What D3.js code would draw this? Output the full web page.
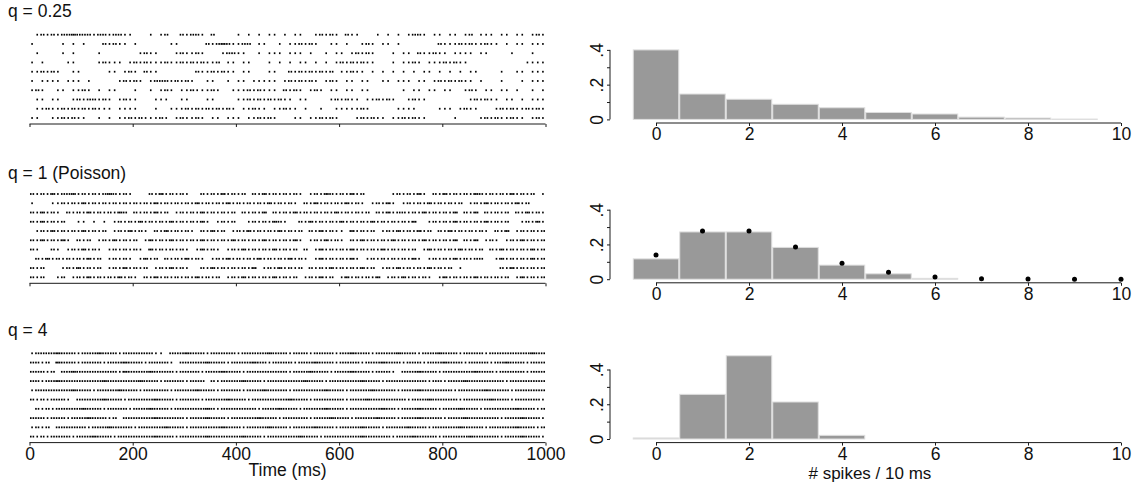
<!DOCTYPE html>
<html>
  <head>
    <meta charset="utf-8" />
    <title>Spike trains and count histograms</title>
    <script src="https://d3js.org/d3.v7.min.js"></script>
    <style>
      body {
        margin: 0;
        background: #fff;
      }
      svg text {
        font-family: "Liberation Sans", Arial, sans-serif;
        fill: #111;
      }
    </style>
  </head>
  <body>

    <svg id="chart"></svg>

    <script>

      var panelLabels = ["q = 0.25", "q = 1 (Poisson)", "q = 4"];

      // spike counts per 10 ms bin, one string per trial (100 bins = 1000 ms)
      var trainsQ025 = [
        "0121212232221221221100010120021221020000101010110101100121210211000101010122101101101201110110110121",
        "1000001010100021211010000001100000212321122011001011212100110100121011010000000211121211211010110111",
        "0100001010000100000001211000121121000122110010111011101001011012121000101102112110111101100001000100",
        "1010000110000121110121211121121212112011011000101010110101012121211000101121011121211000000000001111",
        "1121210011000001101210211000000021121211011000110021212121201121101010101010110101010110000100110111",
        "1011110111010000012121012221212100110010110111110121212101210110110011011101101212121101000100010111",
        "1210011011210101100010010121011211121001112121110212101210110110110000001011011011001210110110100101",
        "0110110012122121012110001110011000110000112121212110110000121211011212100121100000000121211011010111",
        "0112112121212111011110001001112121212121011211011211010010011111210000011110000111012110001212112121",
        "1100112121100101011212111210121121011011101121210001101121210001212110112121100000100001212112110121"
      ];
      var trainsQ1 = [
        "2121312231212123212100021312121002121312120213121212101213212131200000121213102131212132121213121201",
        "1000112121312121212121213121212131212131212121312121021312121312101213101212131212120121312121312",
        "2131210212131212132021213120121213121212021213021213121212131212120213122121312121302130212120213121212",
        "2131212001101010121213121213121213101212001212132100213121213121213121212130012121312121312120012131",
        "0121312121312120121312102131212102131201213121213121202131211031212012131213120213121212102130121212",
        "2131213102120121312120131213121213121213121213121213101213121021312121312121312121302130121012131212131",
        "2100210121312101212121031212121013121012131212131212020131212131212131212120131212131212021312121312",
        "0213121212131201212101312021213121012131212131212131210131212131012121212131012121312122001312121312",
        "2120001213121201213121201213121002131212121301213121202121312121312012131212131212010000000213121212",
        "2120012012131212131210213121212131212012131212131212012131201312121301213121210131212131212120131212"
      ];
      var trainsQ4 = [
        "1222232221222322212222221102223222122222122222322212221222212232221222232221222322212222122222222322212",
        "2212032221222212223222122221022222322212222322122221222322212222122232221222122232221222212232221222",
        "2221202232222222213222232222122221222322212222222212223222122232221222102223222122222232221222221222",
        "2212232222222232222223222122221222021222232221222222232221222222322212222222212212223222222212222222",
        "1222222232221222232221222221222232221222212223222212222223222122223222212223222222122222322221222222",
        "2121222102222232221222223222122221222232221222222232221222222122232222222122232222212222232221222221",
        "0212122222322212222122232221222222321222222212223222122223222122222232212223222122232221222222322212",
        "2221222122232221202222223222221222322212222232221222221222322212222322212223222212223222222122232221",
        "1212022222212223222212222232221222222322212222322212222322212222322212222322212222232222122222322212",
        "2121222212223222122222223222122222322222232221222222322212222222322222122232222122222322222122232221"
      ];

      // share of 10 ms bins holding 0, 1, 2 ... spikes
      var spikeCounts = [0, 1, 2, 3, 4, 5, 6, 7, 8, 9, 10];
      var histQ025 = [0.400, 0.146, 0.116, 0.087, 0.067, 0.040, 0.031, 0.013, 0.008, 0.002];
      var histQ1 = [0.117, 0.272, 0.272, 0.183, 0.081, 0.031, 0.005];
      var histQ4 = [0.006, 0.257, 0.479, 0.213, 0.021];
      var poissonQ1 = [0.139, 0.277, 0.277, 0.185, 0.092, 0.040, 0.012, 0.003, 0.001, 0, 0];

      var timeTicks = [0, 200, 400, 600, 800, 1000];
      var countTicks = [0, 2, 4, 6, 8, 10];
      var probTicks = [0, 0.1, 0.2, 0.3, 0.4];
      var probLabels = ["0", "", ".2", "", ".4"];

      var panels = [
        { label: panelLabels[0], trains: trainsQ025, hist: histQ025, dots: null },
        { label: panelLabels[1], trains: trainsQ1, hist: histQ1, dots: poissonQ1 },
        { label: panelLabels[2], trains: trainsQ4, hist: histQ4, dots: null }
      ];

      var width = 1139;
      var height = 485;
      var fontSize = "17.5px";
      var labelBase = [17, 178.5, 336];
      var rasterShift = [0, 159.3, 318.6];
      var histShift = [0, 159.8, 319.6];
      var ink = "#1a1a1a";

      var svg = d3.select("#chart")
        .attr("width", width)
        .attr("height", height);

      var x = d3.scaleLinear()
        .domain([0, 1000])
        .range([29.5, 545.5]);

      var hx = d3.scaleLinear()
        .domain([0, 10])
        .range([656, 1121]);

      function styleTicks(sel) {
        sel.select(".domain").attr("stroke", ink);
        sel.selectAll(".tick line").attr("stroke", ink);
        sel.selectAll(".tick text")
          .style("font-size", fontSize)
          .style("font-family", "'Liberation Sans', Arial, sans-serif")
          .attr("fill", "#111");
      }

      panels.forEach(function(panel, p) {

        var g = svg.append("g");

        g.append("text")
          .attr("x", 8)
          .attr("y", labelBase[p])
          .style("font-size", fontSize)
          .text(panel.label);

        // raster
        var top = 34.7 + rasterShift[p];
        var row = d3.scaleLinear()
          .domain([0, 9])
          .range([top, top + 83.3]);

        var spikes = [];
        panel.trains.forEach(function(train, r) {
          train.split("").forEach(function(c, b) {
            var n = +c;
            for (var i = 0; i < n; i++) {
              var t = b * 10 + (i + 0.5) * 10 / n;
              if (t < 1000) spikes.push({ trial: r, time: t });
            }
          });
        });

        g.append("g").selectAll("rect")
          .data(spikes)
          .enter().append("rect")
          .attr("x", function(d) { return x(d.time) - 0.8; })
          .attr("y", function(d) { return row(d.trial) - 0.9; })
          .attr("width", 1.6)
          .attr("height", 1.8)
          .style("fill", "#000");

        var axisY = 124 + rasterShift[p];
        var tAxis = d3.axisBottom(x)
          .tickValues(timeTicks)
          .tickSize(3)
          .tickFormat(p === 2 ? d3.format("d") : "");
        var tg = g.append("g")
          .attr("transform", "translate(0," + axisY + ")")
          .call(tAxis)
          .call(styleTicks);
        tg.select(".domain").attr("d", "M" + x(0) + ",0H" + x(1000));
        tg.selectAll(".tick text").attr("y", 5);

        // histogram
        var zero = 119.4 + histShift[p];
        var hy = d3.scaleLinear()
          .domain([0, 0.4])
          .range([zero, zero - 69.5]);

        g.append("g").selectAll("rect")
          .data(panel.hist)
          .enter().append("rect")
          .attr("x", function(d, i) { return hx(spikeCounts[i] - 0.5) + 0.5; })
          .attr("width", hx(1) - hx(0) - 1)
          .attr("y", function(d) { return hy(d); })
          .attr("height", function(d) { return hy(0) - hy(d); })
          .style("fill", "#999")
          .style("stroke", "#dedede")
          .style("stroke-width", 1);

        if (panel.dots) {
          g.append("g").selectAll("circle")
            .data(panel.dots)
            .enter().append("circle")
            .attr("cx", function(d, i) { return hx(spikeCounts[i]); })
            .attr("cy", function(d) { return hy(d); })
            .attr("r", 2.5)
            .style("fill", "#000");
        }

        var xAxis = d3.axisBottom(hx)
          .tickValues(countTicks)
          .tickSize(3)
          .tickFormat(d3.format("d"));
        var xg = g.append("g")
          .attr("transform", "translate(0," + (zero + 3.6) + ")")
          .call(xAxis)
          .call(styleTicks);
        xg.select(".domain").attr("d", "M" + hx(0) + ",0H" + hx(10));
        xg.selectAll(".tick text").attr("y", 4.5);

        var yAxis = d3.axisLeft(hy)
          .tickValues(probTicks)
          .tickSize(3)
          .tickFormat(function(d, i) { return probLabels[i]; });
        var yg = g.append("g")
          .attr("transform", "translate(610,0)")
          .call(yAxis)
          .call(styleTicks);
        yg.select(".domain").attr("d", "M0," + hy(0) + "V" + hy(0.4));
        yg.selectAll(".tick text")
          .attr("x", null)
          .attr("dy", null)
          .attr("text-anchor", "middle")
          .attr("transform", "translate(-7,0) rotate(-90)");
      });

      svg.append("text")
        .attr("x", x(500))
        .attr("y", 476)
        .attr("text-anchor", "middle")
        .style("font-size", fontSize)
        .text("Time (ms)");

      svg.append("text")
        .attr("x", hx(4.6))
        .attr("y", 479)
        .attr("text-anchor", "middle")
        .style("font-size", "17px")
        .text("# spikes / 10 ms");

    </script>
  </body>
</html>
